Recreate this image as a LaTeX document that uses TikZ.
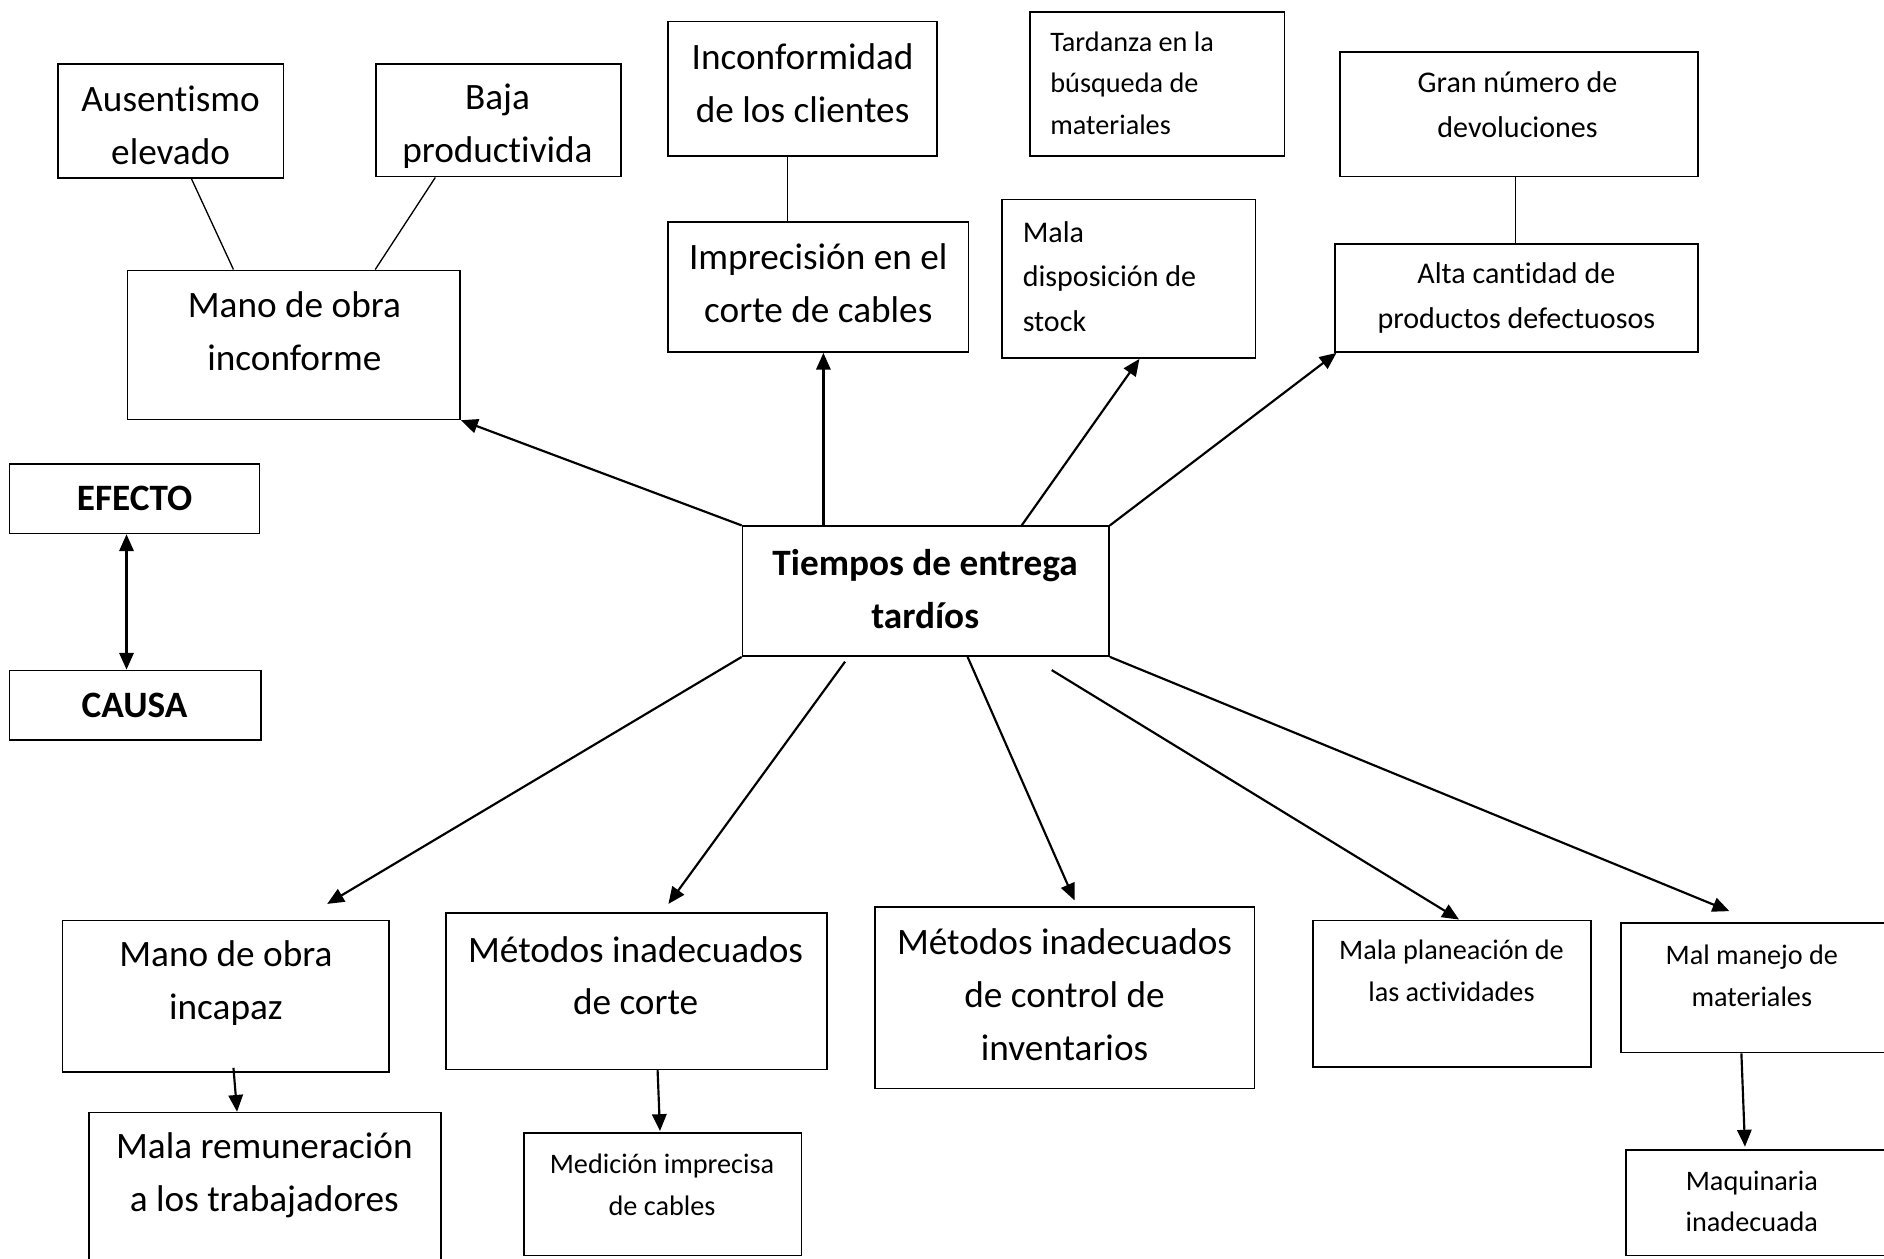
\documentclass[tikz,border=0pt]{standalone}
\usepackage{fontspec}
\setmainfont{Carlito}[Ligatures=NoCommon]
\usetikzlibrary{arrows.meta,calc,fit}

\tikzset{
  box/.style={draw, line width=1.4pt, inner sep=0pt},
  bigtxt/.style={align=center, inner sep=0pt, font=\fontsize{31}{44}\selectfont},
  boldtxt/.style={align=center, inner sep=0pt, font=\fontsize{31}{44}\selectfont\bfseries},
  midtxt/.style={align=center, inner sep=0pt, font=\fontsize{25}{37}\selectfont},
  smalltxt/.style={align=center, inner sep=0pt, font=\fontsize{23.5}{34.5}\selectfont},
  lefttxt/.style={align=left, inner sep=0pt, anchor=west},
  arr/.style={line width=1.8pt, -{Triangle[length=14pt,width=12pt]}},
  dblarr/.style={line width=1.8pt, {Triangle[length=14pt,width=12pt]}-{Triangle[length=14pt,width=12pt]}},
  link/.style={line width=1.1pt}
}

\begin{document}
\begin{tikzpicture}[x=1pt,y=-1pt]
\useasboundingbox (0,0) rectangle (1568,1047);
\clip (0,0) rectangle (1568,1047);
\fill[white] (0,0) rectangle (1568,1047);

% effects (upper row)
\node[box, fit={(48,53) (236,148)}] (aus) {};
\node[bigtxt] (aus-t) at (142,104) {Ausentismo\\elevado};
\node[box, fit={(313,53) (517,147)}] (baja) {};
\node[bigtxt] (baja-t) at (414,105) {Baja\\productivida};
\node[box, fit={(106,225) (383,349)}] (moi) {};
\node[bigtxt] (moi-t) at (245,276) {Mano de obra\\inconforme};

\node[box, fit={(556,18) (780,130)}] (inc) {};
\node[bigtxt] (inc-t) at (668,69) {Inconformidad\\de los clientes};
\node[box, fit={(556,185) (806,293)}] (imp) {};
\node[bigtxt] (imp-t) at (681,236) {Imprecisión en el\\corte de cables};

\node[box, fit={(857,10) (1069,130)}] (tard) {};
\node[smalltxt, lefttxt] (tard-t) at (874,69) {Tardanza en la\\búsqueda de\\materiales};
\node[box, fit={(834,166) (1045,298)}] (md) {};
\node[midtxt, lefttxt] (md-t) at (851,230) {Mala\\disposición de\\stock};

\node[box, fit={(1115,43) (1413,147)}] (gran) {};
\node[midtxt] (gran-t) at (1263,87) {Gran número de\\devoluciones};
\node[box, fit={(1111,203) (1413,293)}] (alta) {};
\node[midtxt] (alta-t) at (1262,248) {Alta cantidad de\\productos defectuosos};

% legend
\node[box, fit={(8,386) (216,444)}] (efecto) {};
\node[boldtxt] (efecto-t) at (112,415) {EFECTO};
\node[box, fit={(8,558) (217,616)}] (causa) {};
\node[boldtxt] (causa-t) at (112,587) {CAUSA};

% central problem
\node[box, fit={(618,438) (923,546)}] (c) {};
\node[boldtxt] (c-t) at (770,490) {Tiempos de entrega\\tardíos};

% causes (lower row)
\node[box, fit={(52,766) (324,892)}] (incapaz) {};
\node[bigtxt] (incapaz-t) at (188,818) {Mano de obra\\incapaz};
\node[box, fit={(74,926) (367,1070)}] (remun) {};
\node[bigtxt] (remun-t) at (220,978) {Mala remuneración\\a los trabajadores};

\node[box, fit={(371,760) (688,890)}] (corte) {};
\node[bigtxt] (corte-t) at (529,812) {Métodos inadecuados\\de corte};
\node[box, fit={(436,943) (667,1045)}] (med) {};
\node[smalltxt] (med-t) at (551,986) {Medición imprecisa\\de cables};

\node[box, fit={(728,755) (1044,906)}] (control) {};
\node[bigtxt] (control-t) at (886,828) {Métodos inadecuados\\de control de\\inventarios};

\node[box, fit={(1093,766) (1324,888)}] (plan) {};
\node[smalltxt] (plan-t) at (1208,808) {Mala planeación de\\las actividades};

\node[box, fit={(1349,768) (1590,876)}] (manejo) {};
\node[smalltxt] (manejo-t) at (1458,812) {Mal manejo de\\materiales};
\node[box, fit={(1353,957) (1590,1045)}] (maq) {};
\node[smalltxt] (maq-t) at (1458,1000) {Maquinaria\\inadecuada};

% plain links between effects
\draw[link] ($(aus.south west)+(112,0)$) -- ($(moi.north west)+(89,0)$);
\draw[link] ($(baja.south west)+(50,0)$) -- ($(moi.north west)+(207,0)$);
\draw[link] ($(inc.south west)+(100,0)$) -- ($(imp.north west)+(100,0)$);
\draw[link] ($(gran.south west)+(147,0)$) -- ($(alta.north west)+(151,0)$);

% arrows from the central problem to its effects
\draw[arr] (c.north west) -- (moi.south east);
\draw[arr] ($(c.north west)+(68,0)$) -- ($(imp.south west)+(130,0)$);
\draw[arr] ($(c.north west)+(233,0)$) -- ($(md.south west)+(115,0)$);
\draw[arr] (c.north east) -- ($(alta.south west)+(2,0)$);

% arrows from the central problem to its causes
\draw[arr] (c.south west) -- ($(incapaz.north west)+(221,-13)$);
\draw[arr] ($(c.south west)+(86,4)$) -- ($(corte.north west)+(186,-7)$);
\draw[arr] ($(c.south west)+(188,0)$) -- ($(control.north west)+(167,-5)$);
\draw[arr] ($(c.south west)+(258,11)$) -- ($(plan.north west)+(122,0)$);
\draw[arr] (c.south east) -- ($(manejo.north west)+(91,-9)$);

% secondary causes
\draw[arr] ($(incapaz.south west)+(143,-4)$) -- ($(remun.north west)+(124,0)$);
\draw[arr] ($(corte.south west)+(177,0)$) -- ($(med.north west)+(114,-1)$);
\draw[arr] ($(manejo.south west)+(101,0)$) -- ($(maq.north west)+(100,-2)$);

% legend arrow
\draw[dblarr] ($(efecto.south west)+(98,0)$) -- ($(causa.north west)+(98,0)$);
\end{tikzpicture}
\end{document}
